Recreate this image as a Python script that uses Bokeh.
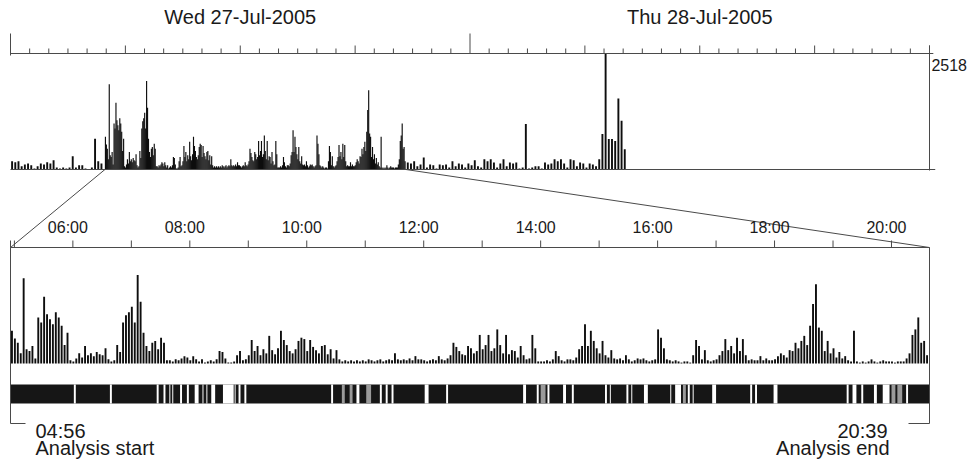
from bokeh.plotting import figure
from bokeh.models import Range1d
from bokeh.core.properties import value
from bokeh.embed import file_html
from bokeh.resources import INLINE

# ------------------------------------------------------------------ data
day_labels = ["Wed 27-Jul-2005", "Thu 28-Jul-2005"]
day_label_hours = [12, 36]
analysis_start = "04:56"
analysis_end = "20:39"
max_count = 2518
epoch_minutes = 3

# activity counts, 3-minute epochs from 04:56 (one row per hour)
act_h0 = [710, 540, 450, 220, 1850, 310, 270, 380, 110, 1000, 890, 1450, 1070, 960, 850, 1110, 1000, 820, 400, 670]
act_h1 = [70, 45, 110, 220, 130, 380, 180, 220, 160, 250, 200, 180, 330, 90, 45, 70, 400, 250, 890, 1050]
act_h2 = [1110, 1230, 890, 1920, 1340, 670, 380, 270, 450, 490, 310, 560, 450, 70, 70, 45, 90, 70, 110, 160]
act_h3 = [130, 70, 160, 90, 45, 90, 20, 45, 70, 45, 90, 270, 250, 110, 20, 20, 45, 180, 270, 70]
act_h4 = [90, 180, 510, 270, 380, 180, 310, 220, 600, 290, 200, 330, 710, 510, 400, 270, 220, 310, 490, 560]
act_h5 = [530, 270, 510, 360, 290, 220, 380, 400, 200, 310, 110, 290, 90, 45, 70, 45, 70, 45, 70, 45]
act_h6 = [70, 45, 90, 70, 45, 70, 90, 45, 70, 90, 70, 220, 90, 70, 90, 70, 110, 70, 160, 90]
act_h7 = [90, 70, 45, 70, 90, 70, 160, 90, 70, 110, 180, 450, 360, 270, 200, 180, 380, 330, 220, 270]
act_h8 = [620, 310, 400, 620, 270, 330, 740, 400, 220, 620, 200, 290, 270, 130, 380, 180, 90, 110, 620, 330]
act_h9 = [45, 45, 45, 70, 45, 90, 270, 160, 70, 45, 90, 90, 70, 130, 310, 380, 850, 380, 710, 490]
act_h10 = [330, 220, 490, 180, 130, 290, 110, 90, 110, 70, 180, 90, 45, 70, 110, 90, 110, 70, 45, 70]
act_h11 = [90, 740, 560, 330, 90, 70, 45, 70, 45, 20, 45, 45, 20, 180, 510, 380, 90, 290, 70, 45]
act_h12 = [70, 90, 180, 270, 530, 290, 380, 220, 560, 270, 530, 180, 70, 90, 70, 70, 160, 70, 110, 70]
act_h13 = [70, 90, 160, 220, 180, 130, 290, 270, 450, 330, 490, 600, 400, 820, 1290, 1720, 780, 710, 270, 490]
act_h14 = [220, 330, 130, 250, 110, 160, 70, 45, 710, 45, 20, 45, 20, 45, 90, 45, 20, 45, 70, 45]
act_h15 = [45, 45, 20, 45, 45, 45, 110, 220, 620, 740, 1000, 450, 490, 180]

# counts outside the analysis window (10-minute bins, overview only)
bin_minutes = 10
pre_start = "00:00"
pre_counts = [180, 160, 180, 70, 110, 130, 90, 20, 70, 130, 110, 160, 130, 200, 45,
              20, 45, 20, 45, 290, 45, 90, 90, 20, 0, 45, 670, 180, 130]
post_start = "20:40"
post_counts = [150, 130, 180, 70, 110, 260, 45, 110, 90, 20,
               110, 90, 110, 45, 180, 70, 130, 110, 45, 130,
               90, 200, 70, 45, 220, 180, 220, 150, 45, 130,
               220, 70, 150, 130, 150, 20, 45, 990, 20, 45,
               70, 70, 20, 150, 110, 130, 220, 180, 220, 130,
               45, 220, 200, 70, 150, 130, 45, 130, 110, 70,
               220, 770, 2518, 660, 660, 620, 1540, 1060, 440]

hour_labels = ["06:00", "08:00", "10:00", "12:00", "14:00", "16:00", "18:00", "20:00"]

# wake epochs shown in the sleep/wake band (start, minutes, level 1=white 0.5=partial)
wake_start = ["06:01", "06:38", "07:26", "07:33", "07:39", "07:42", "07:50", "07:57", "08:05",
              "08:13", "08:17", "08:22", "08:34", "08:46", "08:50", "08:56", "10:25", "10:36",
              "10:44", "10:51", "11:01", "11:15", "11:21", "11:27", "12:01", "12:23", "13:42",
              "13:56", "14:00", "14:07", "14:23", "14:32", "15:06", "15:11", "15:28", "15:33",
              "15:46", "16:13", "16:18", "16:26", "16:31", "16:36", "16:56", "17:35", "17:40",
              "17:59", "19:14", "19:20", "19:29", "19:42", "19:51", "20:00", "20:06", "20:15"]
wake_len = [2, 2, 2, 2, 1, 1, 2, 2, 4, 1, 1, 4, 11, 1, 2, 2, 2, 3,
            3, 3, 5, 2, 2, 2, 4, 2, 3, 2, 5, 2, 3, 2, 2, 1, 2, 1,
            4, 1, 6, 3, 2, 1, 4, 2, 2, 4, 2, 4, 2, 3, 7, 4, 5, 2]
wake_level = [1, 1, 1, 1, 1, 1, 1, 1, 1, 1, 1, 1, 1, 1, 1, 1, 1, 0.5,
              0.5, 1, 0.5, 1, 1, 1, 1, 1, 1, 1, 0.5, 1, 1, 1, 1, 1, 1, 1,
              1, 1, 1, 0.5, 1, 1, 1, 1, 1, 1, 1, 1, 1, 1, 1, 0.5, 0.5, 1]

# ------------------------------------------------------------------ helpers
def hm(s):
    h, m = s.split(":")
    return int(h) + int(m) / 60.0

activity = (act_h0 + act_h1 + act_h2 + act_h3 + act_h4 + act_h5 + act_h6 + act_h7 +
            act_h8 + act_h9 + act_h10 + act_h11 + act_h12 + act_h13 + act_h14 + act_h15)
t_start = hm(analysis_start)
t_end = hm(analysis_end)
ep_h = epoch_minutes / 60.0
ep_x = [t_start + (i + 0.5) * ep_h for i in range(len(activity))]

bin_h = bin_minutes / 60.0
pre_x = [hm(pre_start) + (i + 0.5) * bin_h for i in range(len(pre_counts))]
post_x = [hm(post_start) + (i + 0.5) * bin_h for i in range(len(post_counts))]

wake_l = [hm(s) for s in wake_start]
wake_r = [hm(s) + n / 60.0 for s, n in zip(wake_start, wake_len)]
wake_col = ["#ffffff" if lv == 1 else "#9a9a9a" for lv in wake_level]

# ------------------------------------------------------------------ layout (page px)
W, H = 970, 460
M = 0
X0, X1 = 10, 929
Y_TAX, Y_TBASE = 53, 169
Y_BAX, Y_BBASE = 247, 363
BAND_T, BAND_B = 384, 403
BRK_Y = 423
DAY_SPAN = 48.0

k = max_count / (Y_TBASE - Y_TAX)
dpp = (X1 - X0) / DAY_SPAN
zpp = (X1 - X0) / (t_end - t_start)

day_range = Range1d(-(X0 - M) / dpp, DAY_SPAN + (M + W - X1) / dpp)
zoom_range = Range1d(t_start - (X0 - M) / zpp, t_end + (M + W - X1) / zpp)
top_y = Range1d(-(M + H - Y_TBASE) * k, (Y_TBASE - M) * k)
bot_y = Range1d(-(M + H - Y_BBASE) * k, (Y_BBASE - M) * k)

p = figure(width=W, height=H, x_range=day_range, y_range=top_y,
           output_backend="svg", toolbar_location=None, min_border=0,
           x_axis_type=None, y_axis_type=None, title=None,
           outline_line_color=None, background_fill_color="white",
           border_fill_color="white")
p.extra_x_ranges = {"zoom": zoom_range, "px": Range1d(M, M + W)}
p.extra_y_ranges = {"bot": bot_y, "py": Range1d(M + H, M)}

BAR = "#0e0e0e"
LINE = "#4a4a4a"
TXT = "#1a1a1a"
FONT = value("Liberation Sans")

# ---- overview bars
p.vbar(x=pre_x, width=bin_h * 0.6, top=pre_counts, bottom=0, fill_color=BAR, line_color=None)
p.vbar(x=ep_x, width=ep_h * 1.2, top=activity, bottom=0, fill_color=BAR, line_color=None)
p.vbar(x=post_x, width=bin_h * 0.6, top=post_counts, bottom=0, fill_color=BAR, line_color=None)

# ---- overview axis
day_ticks = list(range(0, int(DAY_SPAN) + 1))
t_top = []
for h in day_ticks:
    if h == 0 or h == 24:
        t_top.append(33)
    elif h == 48:
        t_top.append(45)
    elif h % 6 == 0:
        t_top.append(45)
    else:
        t_top.append(48)
t_bot = [55 if h == 0 else Y_TAX for h in day_ticks]
p.segment(x0=day_ticks, x1=day_ticks, y0=t_bot, y1=t_top, y_range_name="py",
          line_color=LINE, line_width=1)
p.segment(x0=[0], x1=[DAY_SPAN + 0.2], y0=[Y_TAX], y1=[Y_TAX], y_range_name="py",
          line_color=LINE, line_width=1)
p.segment(x0=[0], x1=[DAY_SPAN + 0.3], y0=[Y_TBASE], y1=[Y_TBASE], y_range_name="py",
          line_color=LINE, line_width=1)
p.segment(x0=[DAY_SPAN], x1=[DAY_SPAN], y0=[45], y1=[Y_TBASE + 1], y_range_name="py",
          line_color=LINE, line_width=1)
p.text(x=day_label_hours, y=[16, 16], text=day_labels, y_range_name="py",
       text_font=FONT, text_font_size="20px", text_align="center",
       text_baseline="middle", text_color=TXT)
p.text(x=[DAY_SPAN + 0.1], y=[58], text=[str(max_count)], y_range_name="py",
       text_font=FONT, text_font_size="16px", text_align="left",
       text_baseline="top", text_color=TXT)

# ---- connectors (window ends in overview -> ends of detail panel)
p.segment(x0=[t_start, t_end], x1=[0, DAY_SPAN], y0=[Y_TBASE, Y_TBASE], y1=[Y_BAX, Y_BAX],
          y_range_name="py", line_color=LINE, line_width=1)

# ---- detail bars
p.vbar(x=ep_x, width=ep_h * 0.65, top=activity, bottom=0, x_range_name="zoom",
       y_range_name="bot", fill_color=BAR, line_color=None)

# ---- sleep / wake band
p.quad(left=[t_start], right=[t_end], top=[BAND_T], bottom=[BAND_B],
       x_range_name="zoom", y_range_name="py", fill_color="#161616", line_color=None)
p.quad(left=wake_l, right=wake_r, top=[BAND_T] * len(wake_l), bottom=[BAND_B] * len(wake_l),
       x_range_name="zoom", y_range_name="py", fill_color=wake_col, line_color=None)

# ---- detail axis
hour_ticks = [t_start] + list(range(int(t_start) + 1, int(t_end) + 1))
p.segment(x0=hour_ticks, x1=hour_ticks, y0=[Y_BAX] * len(hour_ticks),
          y1=[Y_BAX - 7] * len(hour_ticks), x_range_name="zoom", y_range_name="py",
          line_color=LINE, line_width=1)
p.segment(x0=[t_start], x1=[t_end], y0=[Y_BAX], y1=[Y_BAX], x_range_name="zoom",
          y_range_name="py", line_color=LINE, line_width=1)
p.text(x=[hm(s) for s in hour_labels], y=[227] * len(hour_labels), text=hour_labels,
       x_range_name="zoom", y_range_name="py", x_offset=-5,
       text_font=FONT, text_font_size="16px", text_align="center",
       text_baseline="middle", text_color=TXT)

# ---- side borders and brackets
p.segment(x0=[t_start, t_end], x1=[t_start, t_end], y0=[Y_BAX, Y_BAX], y1=[BRK_Y, BRK_Y],
          x_range_name="zoom", y_range_name="py", line_color=LINE, line_width=1)
p.segment(x0=[X0, X1 - 21], x1=[X0 + 15, X1], y0=[BRK_Y, BRK_Y], y1=[BRK_Y, BRK_Y],
          x_range_name="px", y_range_name="py", line_color=LINE, line_width=1)
p.text(x=[35, 35], y=[430, 447], text=[analysis_start, "Analysis start"],
       x_range_name="px", y_range_name="py", text_font=FONT, text_font_size="20px",
       text_align="left", text_baseline="middle", text_color=TXT)
p.text(x=[887, 889], y=[430, 447], text=[analysis_end, "Analysis end"],
       x_range_name="px", y_range_name="py", text_font=FONT, text_font_size="20px",
       text_align="right", text_baseline="middle", text_color=TXT)

open("out.html", "w").write(file_html(p, INLINE))
